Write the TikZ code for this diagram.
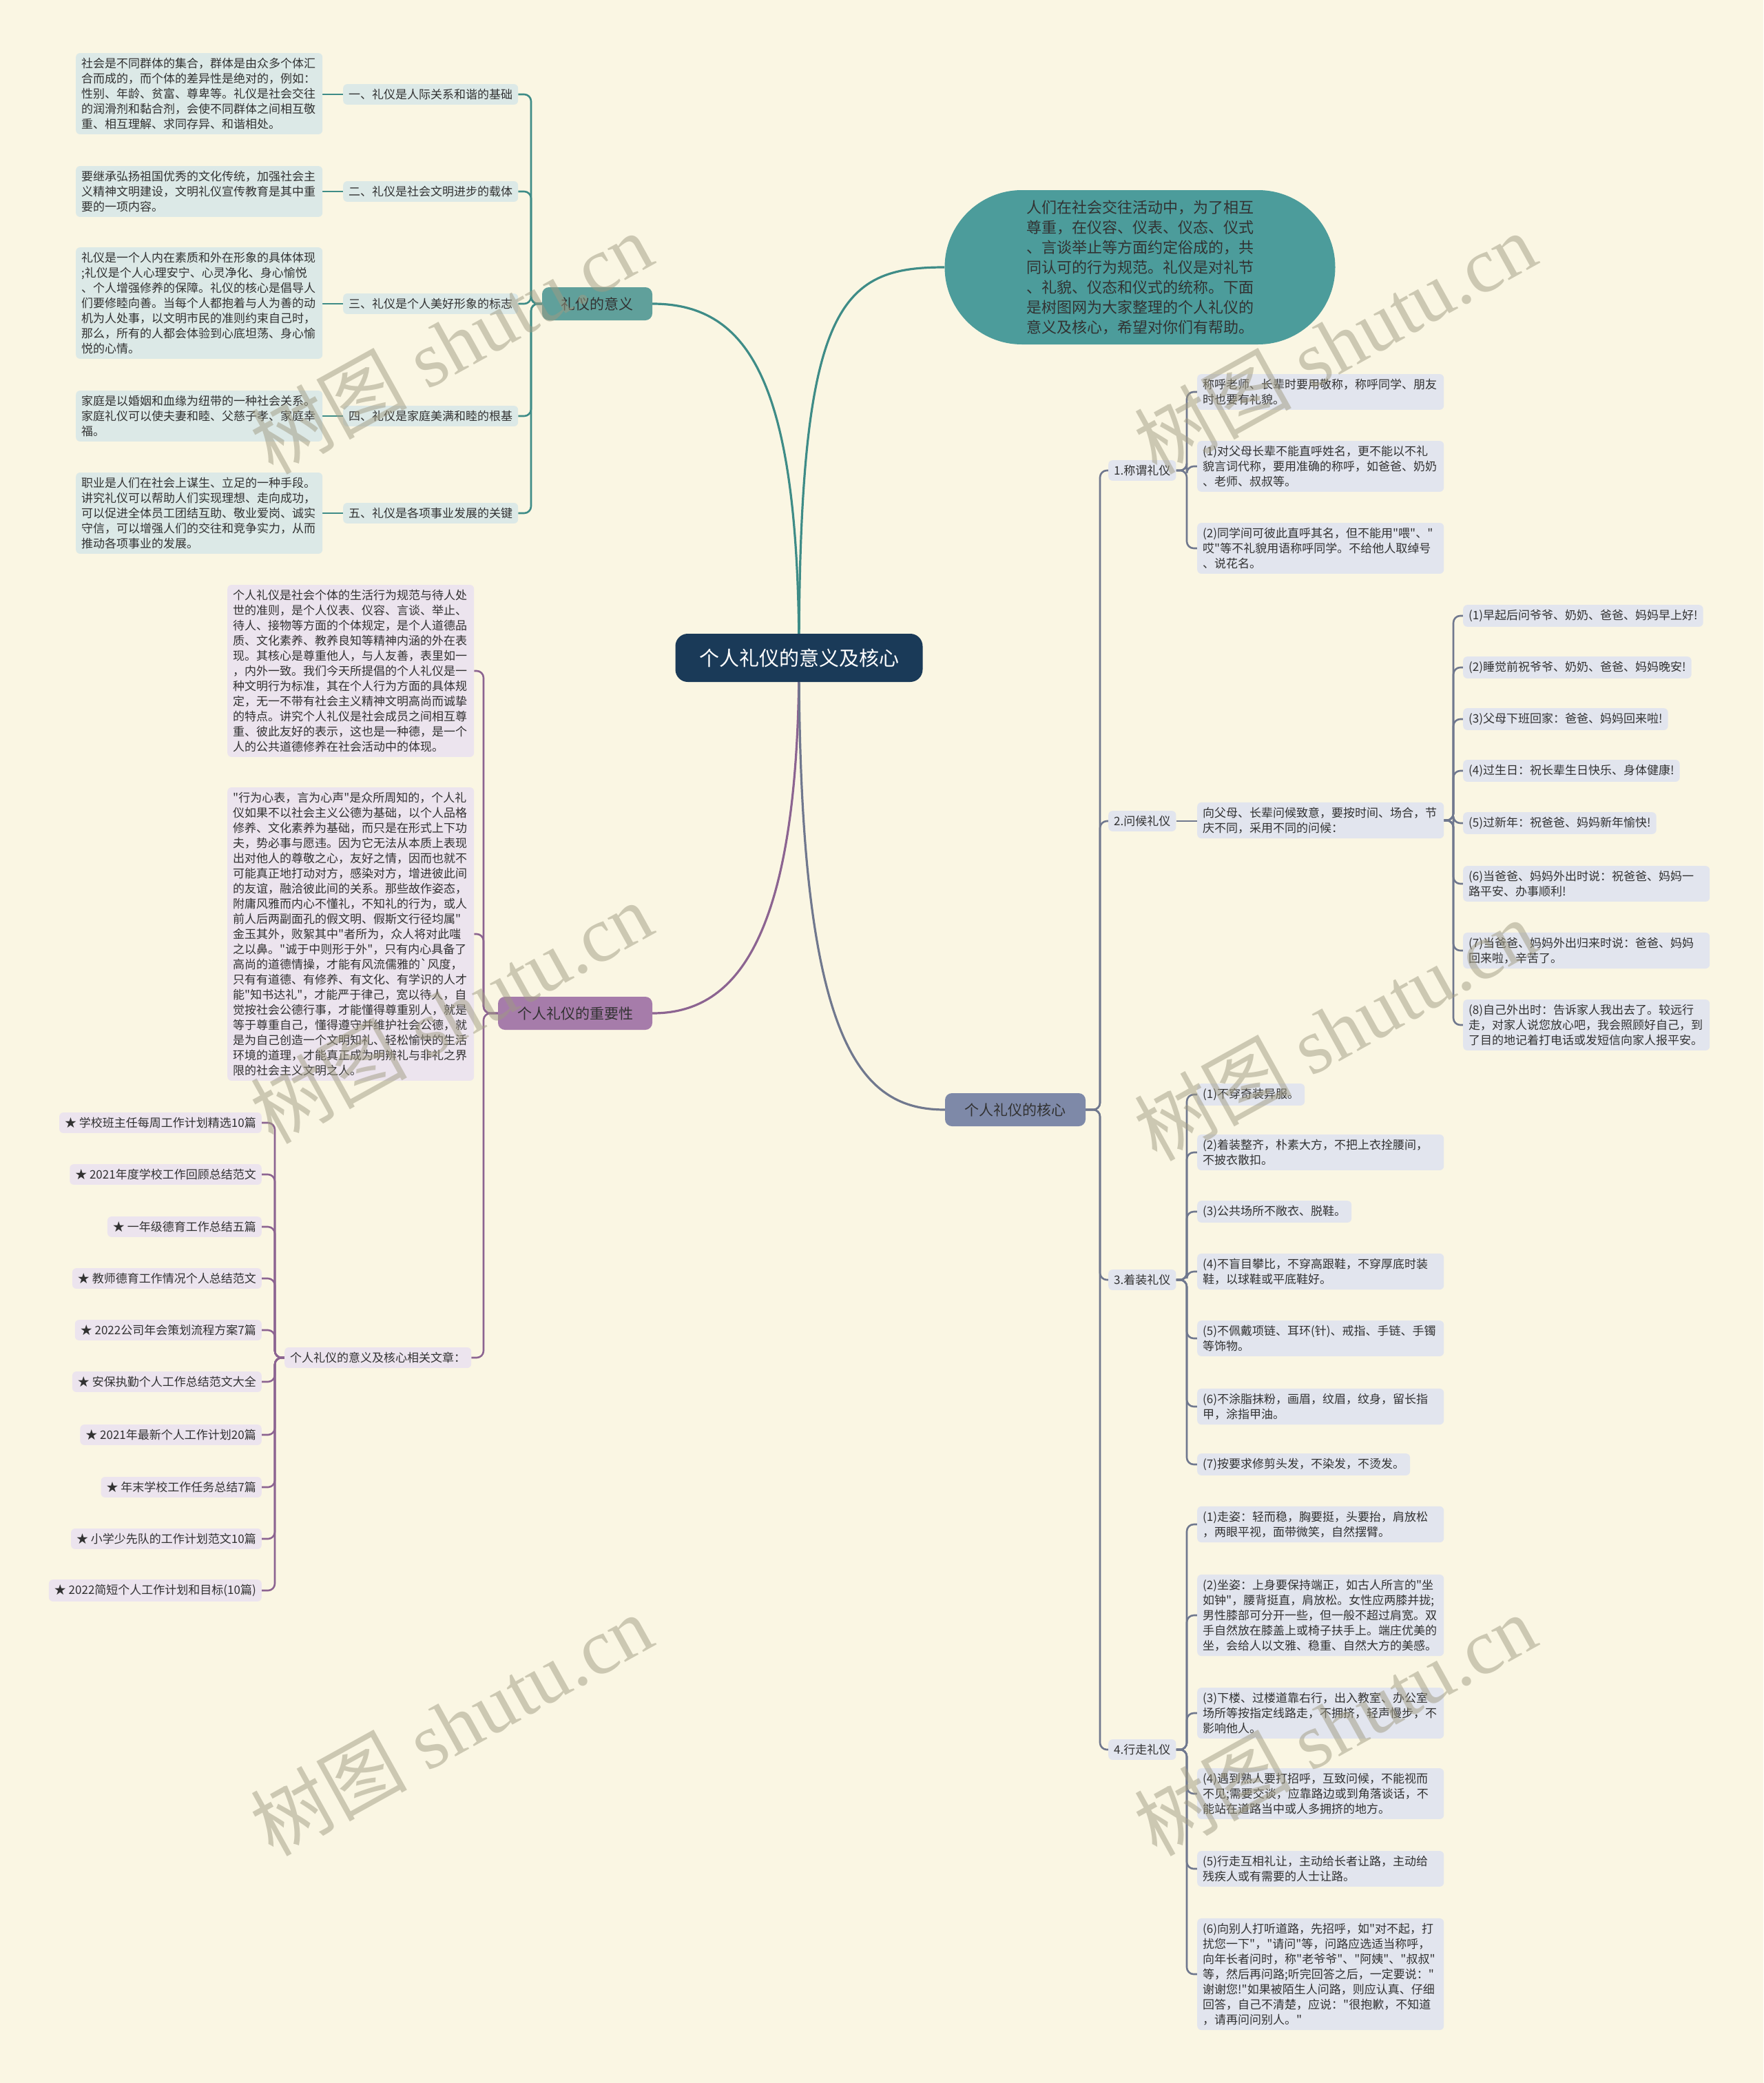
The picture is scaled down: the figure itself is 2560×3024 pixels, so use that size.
\documentclass[tikz,border=0pt]{standalone}
\usepackage{fontspec}
\setmainfont{Noto Sans CJK SC}[Ligatures=TeXOff]
\newfontfamily\wmfont{Liberation Serif}
\newfontfamily\wmcjk{Noto Sans CJK SC}
\usetikzlibrary{shapes.misc}
\pgfdeclarelayer{back}
\pgfdeclarelayer{front}
\pgfsetlayers{back,main,front}
\definecolor{bgc}{RGB}{250,246,227}
\definecolor{txt}{RGB}{50,50,50}
\definecolor{tealD}{RGB}{62,140,135}
\definecolor{tealM}{RGB}{96,160,155}
\definecolor{tealL}{RGB}{220,233,231}
\definecolor{introC}{RGB}{76,156,155}
\definecolor{navy}{RGB}{26,58,88}
\definecolor{purpD}{RGB}{140,100,145}
\definecolor{purpM}{RGB}{166,124,170}
\definecolor{purpL}{RGB}{236,228,238}
\definecolor{blueD}{RGB}{112,120,142}
\definecolor{blueM}{RGB}{126,137,168}
\definecolor{blueL}{RGB}{226,229,238}
\definecolor{wmC}{RGB}{160,155,130}
\tikzset{
  base/.style={rounded corners=6pt, inner xsep=8pt, inner ysep=7pt, font=\fontsize{17}{22}\selectfont, text=txt, align=left},
  tl/.style={base, fill=tealL, anchor=west, text width=342pt},
  ts/.style={base, fill=tealL, anchor=west},
  pl/.style={base, fill=purpL, anchor=west, text width=342pt},
  pi/.style={base, fill=purpL, anchor=east},
  bl/.style={base, fill=blueL, anchor=west},
  blw/.style={bl, text width=342pt},
  brnode/.style={rounded corners=10pt, font=\fontsize{21}{26}\selectfont, text=txt, minimum height=48pt, inner sep=0pt},
  tline/.style={draw=tealD, line width=2.6pt, rounded corners=10pt},
  pline/.style={draw=purpD, line width=2.6pt, rounded corners=10pt},
  bline/.style={draw=blueD, line width=2.6pt, rounded corners=10pt},
  mainline/.style={line width=3.2pt},
  wm/.style={rotate=29, font=\wmfont\fontsize{114}{114}\selectfont, text=wmC, opacity=0.5, inner sep=0pt}
}
\begin{document}
\begin{tikzpicture}[x=1pt,y=-1pt]
\useasboundingbox (0,0) rectangle (2560,3024);

% ---------- main nodes ----------
\node[rounded corners=18pt, fill=navy, text=white, font=\fontsize{29}{34}\selectfont, minimum width=359pt, minimum height=70pt, inner sep=0pt] (C) at (1160,955) {个人礼仪的意义及核心};
\node[rounded rectangle, fill=introC, text=txt, font=\fontsize{22}{29}\selectfont, align=left, minimum width=567pt, minimum height=224pt, inner sep=0pt] (intro) at (1655,388) {人们在社会交往活动中，为了相互\\尊重，在仪容、仪表、仪态、仪式\\、言谈举止等方面约定俗成的，共\\同认可的行为规范。礼仪是对礼节\\、礼貌、仪态和仪式的统称。下面\\是树图网为大家整理的个人礼仪的\\意义及核心，希望对你们有帮助。};
\node[brnode, fill=tealM, minimum width=160pt] (yy) at (867,441) {礼仪的意义};
\node[brnode, fill=purpM, minimum width=224pt] (zy) at (835,1471) {个人礼仪的重要性};
\node[brnode, fill=blueM, minimum width=204pt] (hx) at (1474,1611) {个人礼仪的核心};

% ---------- 礼仪的意义 ----------
\node[ts] (S1) at (498,137) {一、礼仪是人际关系和谐的基础};
\node[ts] (S2) at (498,278) {二、礼仪是社会文明进步的载体};
\node[ts] (S3) at (498,441) {三、礼仪是个人美好形象的标志};
\node[ts] (S4) at (498,604) {四、礼仪是家庭美满和睦的根基};
\node[ts] (S5) at (498,745) {五、礼仪是各项事业发展的关键};
\node[tl] (L1) at (110,136) {社会是不同群体的集合，群体是由众多个体汇\\合而成的，而个体的差异性是绝对的，例如：\\性别、年龄、贫富、尊卑等。礼仪是社会交往\\的润滑剂和黏合剂，会使不同群体之间相互敬\\重、相互理解、求同存异、和谐相处。};
\node[tl] (L2) at (110,278) {要继承弘扬祖国优秀的文化传统，加强社会主\\义精神文明建设，文明礼仪宣传教育是其中重\\要的一项内容。};
\node[tl] (L3) at (110,440) {礼仪是一个人内在素质和外在形象的具体体现\\;礼仪是个人心理安宁、心灵净化、身心愉悦\\、个人增强修养的保障。礼仪的核心是倡导人\\们要修睦向善。当每个人都抱着与人为善的动\\机为人处事，以文明市民的准则约束自己时，\\那么，所有的人都会体验到心底坦荡、身心愉\\悦的心情。};
\node[tl] (L4) at (110,604) {家庭是以婚姻和血缘为纽带的一种社会关系。\\家庭礼仪可以使夫妻和睦、父慈子孝、家庭幸\\福。};
\node[tl] (L5) at (110,745) {职业是人们在社会上谋生、立足的一种手段。\\讲究礼仪可以帮助人们实现理想、走向成功，\\可以促进全体员工团结互助、敬业爱岗、诚实\\守信，可以增强人们的交往和竞争实力，从而\\推动各项事业的发展。};

% ---------- 个人礼仪的重要性 ----------
\node[pl] (I1) at (330,974) {个人礼仪是社会个体的生活行为规范与待人处\\世的准则，是个人仪表、仪容、言谈、举止、\\待人、接物等方面的个体规定，是个人道德品\\质、文化素养、教养良知等精神内涵的外在表\\现。其核心是尊重他人，与人友善，表里如一\\，内外一致。我们今天所提倡的个人礼仪是一\\种文明行为标准，其在个人行为方面的具体规\\定，无一不带有社会主义精神文明高尚而诚挚\\的特点。讲究个人礼仪是社会成员之间相互尊\\重、彼此友好的表示，这也是一种德，是一个\\人的公共道德修养在社会活动中的体现。};
\node[pl] (I2) at (330,1356) {"行为心表，言为心声"是众所周知的，个人礼\\仪如果不以社会主义公德为基础，以个人品格\\修养、文化素养为基础，而只是在形式上下功\\夫，势必事与愿违。因为它无法从本质上表现\\出对他人的尊敬之心，友好之情，因而也就不\\可能真正地打动对方，感染对方，增进彼此间\\的友谊，融洽彼此间的关系。那些故作姿态，\\附庸风雅而内心不懂礼，不知礼的行为，或人\\前人后两副面孔的假文明、假斯文行径均属"\\金玉其外，败絮其中"者所为，众人将对此嗤\\之以鼻。"诚于中则形于外"，只有内心具备了\\高尚的道德情操，才能有风流儒雅的`风度，\\只有有道德、有修养、有文化、有学识的人才\\能"知书达礼"，才能严于律己，宽以待人，自\\觉按社会公德行事，才能懂得尊重别人，就是\\等于尊重自己，懂得遵守并维护社会公德，就\\是为自己创造一个文明知礼、轻松愉快的生活\\环境的道理，才能真正成为明辨礼与非礼之界\\限的社会主义文明之人。};
\node[base, fill=purpL, anchor=west] (rel) at (413,1971) {个人礼仪的意义及核心相关文章：};
\node[pi] (R1) at (380,1630) {★ 学校班主任每周工作计划精选10篇};
\node[pi] (R2) at (380,1705) {★ 2021年度学校工作回顾总结范文};
\node[pi] (R3) at (380,1781) {★ 一年级德育工作总结五篇};
\node[pi] (R4) at (380,1856) {★ 教师德育工作情况个人总结范文};
\node[pi] (R5) at (380,1931) {★ 2022公司年会策划流程方案7篇};
\node[pi] (R6) at (380,2006) {★ 安保执勤个人工作总结范文大全};
\node[pi] (R7) at (380,2083) {★ 2021年最新个人工作计划20篇};
\node[pi] (R8) at (380,2159) {★ 年末学校工作任务总结7篇};
\node[pi] (R9) at (380,2234) {★ 小学少先队的工作计划范文10篇};
\node[pi] (R10) at (380,2309) {★ 2022简短个人工作计划和目标(10篇)};

% ---------- 个人礼仪的核心 ----------
\node[bl] (K1) at (1609,683) {1.称谓礼仪};
\node[bl] (K2) at (1609,1192) {2.问候礼仪};
\node[bl] (K3) at (1609,1858) {3.着装礼仪};
\node[bl] (K4) at (1609,2540) {4.行走礼仪};

\node[blw] (A1) at (1738,569) {称呼老师、长辈时要用敬称，称呼同学、朋友\\时也要有礼貌。};
\node[blw] (A2) at (1738,677) {(1)对父母长辈不能直呼姓名，更不能以不礼\\貌言词代称，要用准确的称呼，如爸爸、奶奶\\、老师、叔叔等。};
\node[blw] (A3) at (1738,796) {(2)同学间可彼此直呼其名，但不能用"喂"、"\\哎"等不礼貌用语称呼同学。不给他人取绰号\\、说花名。};

\node[blw] (W0) at (1738,1191) {向父母、长辈问候致意，要按时间、场合，节\\庆不同，采用不同的问候：};
\node[bl] (W1) at (2124,894) {(1)早起后问爷爷、奶奶、爸爸、妈妈早上好!};
\node[bl] (W2) at (2124,969) {(2)睡觉前祝爷爷、奶奶、爸爸、妈妈晚安!};
\node[bl] (W3) at (2124,1044) {(3)父母下班回家：爸爸、妈妈回来啦!};
\node[bl] (W4) at (2124,1119) {(4)过生日：祝长辈生日快乐、身体健康!};
\node[bl] (W5) at (2124,1195) {(5)过新年：祝爸爸、妈妈新年愉快!};
\node[blw] (W6) at (2124,1283) {(6)当爸爸、妈妈外出时说：祝爸爸、妈妈一\\路平安、办事顺利!};
\node[blw] (W7) at (2124,1380) {(7)当爸爸、妈妈外出归来时说：爸爸、妈妈\\回来啦，辛苦了。};
\node[blw] (W8) at (2124,1488) {(8)自己外出时：告诉家人我出去了。较远行\\走，对家人说您放心吧，我会照顾好自己，到\\了目的地记着打电话或发短信向家人报平安。};

\node[bl] (Z1) at (1738,1589) {(1)不穿奇装异服。};
\node[blw] (Z2) at (1738,1673) {(2)着装整齐，朴素大方，不把上衣拴腰间，\\不披衣散扣。};
\node[bl] (Z3) at (1738,1759) {(3)公共场所不敞衣、脱鞋。};
\node[blw] (Z4) at (1738,1846) {(4)不盲目攀比，不穿高跟鞋，不穿厚底时装\\鞋，以球鞋或平底鞋好。};
\node[blw] (Z5) at (1738,1943) {(5)不佩戴项链、耳环(针)、戒指、手链、手镯\\等饰物。};
\node[blw] (Z6) at (1738,2042) {(6)不涂脂抹粉，画眉，纹眉，纹身，留长指\\甲，涂指甲油。};
\node[bl] (Z7) at (1738,2126) {(7)按要求修剪头发，不染发，不烫发。};

\node[blw] (X1) at (1738,2213) {(1)走姿：轻而稳，胸要挺，头要抬，肩放松\\，两眼平视，面带微笑，自然摆臂。};
\node[blw] (X2) at (1738,2345) {(2)坐姿：上身要保持端正，如古人所言的"坐\\如钟"，腰背挺直，肩放松。女性应两膝并拢;\\男性膝部可分开一些，但一般不超过肩宽。双\\手自然放在膝盖上或椅子扶手上。端庄优美的\\坐，会给人以文雅、稳重、自然大方的美感。};
\node[blw] (X3) at (1738,2487) {(3)下楼、过楼道靠右行，出入教室、办公室\\场所等按指定线路走，不拥挤，轻声慢步，不\\影响他人。};
\node[blw] (X4) at (1738,2604) {(4)遇到熟人要打招呼，互致问候，不能视而\\不见;需要交谈，应靠路边或到角落谈话，不\\能站在道路当中或人多拥挤的地方。};
\node[blw] (X5) at (1738,2713) {(5)行走互相礼让，主动给长者让路，主动给\\残疾人或有需要的人士让路。};
\node[blw] (X6) at (1738,2866) {(6)向别人打听道路，先招呼，如"对不起，打\\扰您一下"，"请问"等，问路应选适当称呼，\\向年长者问时，称"老爷爷"、"阿姨"、"叔叔"\\等，然后再问路;听完回答之后，一定要说："\\谢谢您!"如果被陌生人问路，则应认真、仔细\\回答，自己不清楚，应说："很抱歉，不知道\\，请再问问别人。"};

% ---------- connectors ----------
\begin{pgfonlayer}{back}
\fill[bgc] (0,0) rectangle (2560,3024);
\draw[tline, mainline] (C.center) .. controls (1160,560) and (1090,441) .. (yy.east);
\draw[tline, mainline] (C.center) .. controls (1160,440) and (1220,388) .. (intro.west);
\draw[pline, mainline] (C.center) .. controls (1160,1380) and (1060,1471) .. (zy.east);
\draw[bline, mainline] (C.center) .. controls (1160,1520) and (1250,1611) .. (hx.west);

\foreach \s in {S1,S2,S3,S4,S5} \draw[tline] (yy.west) -- (771,441) |- (\s.east);
\foreach \s/\l in {S1/L1,S2/L2,S3/L3,S4/L4,S5/L5} \draw[tline] (\s.west) -- (\l.east |- \s.west);

\foreach \s in {I1,I2,rel} \draw[pline] (zy.west) -- (702,1471) |- (\s.east);
\foreach \s in {R1,R2,R3,R4,R5,R6,R7,R8,R9,R10} \draw[pline] (rel.west) -- (399,1971) |- (\s.east);

\foreach \s in {K1,K2,K3,K4} \draw[bline] (hx.east) -- (1597,1611) |- (\s.west);
\foreach \s in {A1,A2,A3} \draw[bline] (K1.east) -- (1723,683) |- (\s.west);
\draw[bline] (K2.east) -- (K2.east -| W0.west);
\foreach \s in {W1,W2,W3,W4,W5,W6,W7,W8} \draw[bline] (W0.east) -- (2110,1191) |- (\s.west);
\foreach \s in {Z1,Z2,Z3,Z4,Z5,Z6,Z7} \draw[bline] (K3.east) -- (1723,1858) |- (\s.west);
\foreach \s in {X1,X2,X3,X4,X5,X6} \draw[bline] (K4.east) -- (1723,2540) |- (\s.west);
\end{pgfonlayer}

% ---------- watermark ----------
\begin{pgfonlayer}{front}
\foreach \px/\py [count=\i] in {655/498, 655/1470, 655/2504, 1938/498, 1938/1495, 1938/2504}
  \node[wm] (wm\i) at (\px,\py) {{\wmcjk 树图} shutu.cn};
\end{pgfonlayer}
\end{tikzpicture}
\end{document}
